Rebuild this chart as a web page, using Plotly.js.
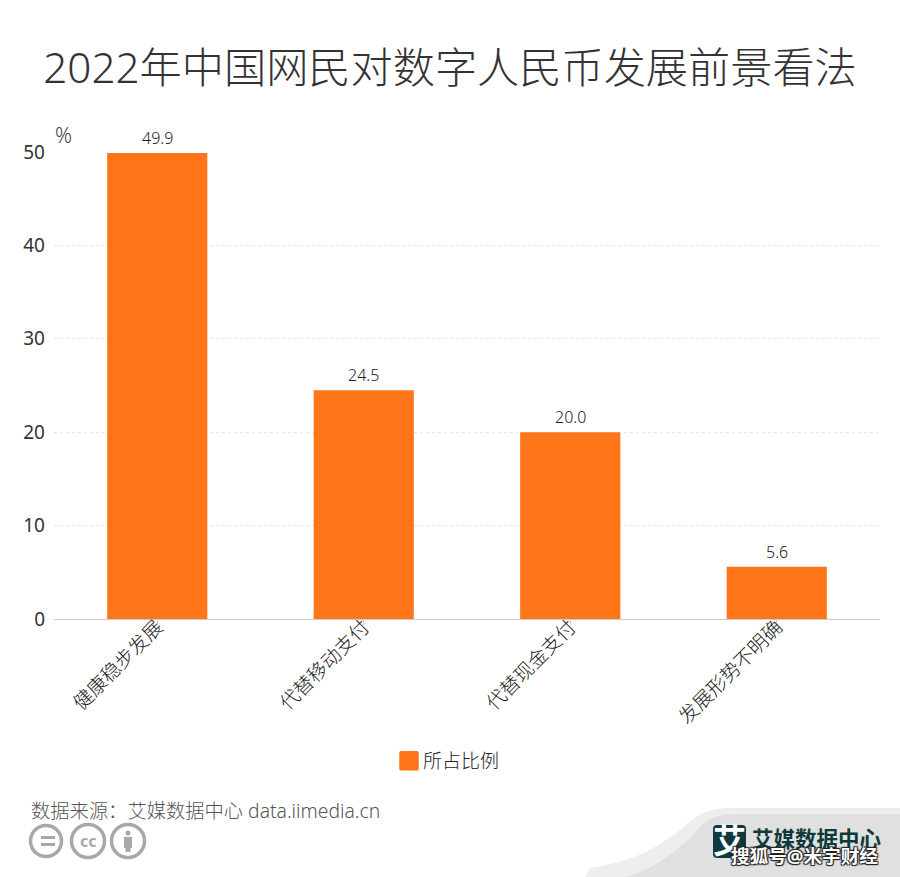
<!DOCTYPE html>
<html>
<head>
<meta charset="utf-8">
<script src="https://cdn.plot.ly/plotly-3.0.1.min.js"></script>
<style>
  html, body { margin: 0; padding: 0; background: #fff; }
  /* plotly's bar swatch is fixed at 12px, the reference has a bigger rounded one */
  .legend .legendpoints path {
    transform: translate(26px, 0) scale(1.3);
    stroke: #ff7519 !important;
    stroke-width: 3px !important;
    stroke-linejoin: round;
  }
</style>
</head>
<body>
<div id="chart" style="width:900px;height:877px;"></div>
<script>
let categorias = ["健康稳步发展", "代替移动支付", "代替现金支付", "发展形势不明确"];
let valores = [49.9, 24.5, 20.0, 5.6];
let etiquetas = ["49.9", "24.5", "20.0", "5.6"];
let ticks_y = [0, 10, 20, 30, 40, 50];

let fuente = '"Noto Sans", "Noto Sans CJK SC", sans-serif';
let naranja = "#ff7519";

// plot area in page pixels, decorations below are placed with these
let left = 54, right = 880, top_y = 152, bottom_y = 619;
function px(x) { return (x - left) / (right - left); }
function py(y) { return (bottom_y - y) / (bottom_y - top_y); }

function rectShape(x0, y0, x1, y1, color) {
  return {type: "rect", xref: "paper", yref: "paper", x0: px(x0), y0: py(y0),
          x1: px(x1), y1: py(y1), fillcolor: color, line: {width: 0}};
}
function circleShape(cx, cy, r, fill, stroke, width) {
  return {type: "circle", xref: "paper", yref: "paper", x0: px(cx - r), y0: py(cy - r),
          x1: px(cx + r), y1: py(cy + r), fillcolor: fill, line: {color: stroke, width: width}};
}
function pathShape(puntos, color, layer) {
  // puntos: list of [command, x, y, ...] in page pixels
  let d = puntos.map(p => {
    let out = p[0];
    for (let i = 1; i < p.length; i += 2) {
      out += (i > 1 ? " " : "") + px(p[i]) + "," + py(p[i + 1]);
    }
    return out;
  }).join(" ") + " Z";
  return {type: "path", xref: "paper", yref: "paper", path: d, fillcolor: color,
          line: {width: 0}, layer: layer || "below"};
}
function nota(x, y, text, size, color, anchor, extra) {
  return Object.assign({
    xref: "paper", yref: "paper", x: px(x), y: py(y), text: text, showarrow: false,
    xanchor: anchor || "left", yanchor: "middle",
    font: {family: fuente, size: size, color: color}
  }, extra || {});
}

let gris = "#a8a8a8";
let oscuro = "#0e3a3b";
let shapes = [
  // grey corner of the footer
  pathShape([["M", 585, 877], ["L", 590, 868], ["C", 625, 862, 645, 855, 672, 836],
             ["C", 692, 822, 698, 808, 730, 808], ["L", 900, 808], ["L", 900, 877]], "#eeeeee"),
  pathShape([["M", 625, 877], ["C", 650, 870, 668, 858, 688, 840],
             ["C", 702, 826, 708, 814, 735, 814], ["L", 900, 814], ["L", 900, 877]], "#e0e0e0"),
  // logo square
  pathShape([["M", 717, 825], ["L", 742, 825], ["Q", 746, 825, 746, 829], ["L", 746, 854],
             ["Q", 746, 858, 742, 858], ["L", 717, 858], ["Q", 713, 858, 713, 854],
             ["L", 713, 829], ["Q", 713, 825, 717, 825]], oscuro, "above"),
  // licence icons
  circleShape(46, 841, 15.5, "rgba(0,0,0,0)", gris, 3.5),
  circleShape(88, 841, 16.5, "rgba(0,0,0,0)", gris, 3.5),
  circleShape(128, 841, 16.5, "rgba(0,0,0,0)", gris, 3.5),
  rectShape(41, 836, 55, 839, gris),
  rectShape(41, 843, 55, 846, gris),
  circleShape(128, 833, 2.5, gris, gris, 0),
  rectShape(124, 837, 132, 848, gris),
  rectShape(125.5, 848, 130.5, 852, gris)
];

let annotations = [
  nota(53, 135, "%", 21, "#555555", "left",
       {font: {family: fuente, size: 21, weight: 300, color: "#444444"}}),
  nota(28.5, 810, "数据来源：艾媒数据中心 data.iimedia.cn", 19.3, "#666666", "left",
       {font: {family: fuente, size: 19.3, weight: 300, color: "#555555"}}),
  nota(88, 841, "<b>cc</b>", 16, gris, "center"),
  nota(729.5, 840, "<b>艾</b>", 33, "#ffffff", "center"),
  nota(750, 838, "<b>艾媒数据中心</b>", 21.5, oscuro, "left"),
  nota(729, 856, "<b>搜狐号@米宇财经</b>", 18.6, "#ffffff", "left",
       {font: {family: fuente, size: 18.6, color: "#ffffff",
               shadow: "1px 1px 1px #222, -1px -1px 1px #222, 1px -1px 1px #222, -1px 1px 1px #222"}})
];
// value labels sit on the data, a bit higher than textposition outside puts them
categorias.forEach((c, i) => {
  annotations.push({
    xref: "x", yref: "y", x: c, y: valores[i], text: etiquetas[i], showarrow: false,
    yanchor: "bottom", yshift: 2,
    font: {family: fuente, size: 16, weight: 300, color: "#222222"}
  });
});

let trace = {
  x: categorias,
  y: valores,
  name: "所占比例",
  type: "bar",
  showlegend: true,
  marker: {color: naranja, line: {width: 0}},
  hoverinfo: "x+y"
};

let layout = {
  width: 900,
  height: 877,
  autosize: false,
  margin: {l: left, r: 900 - right, t: top_y, b: 877 - bottom_y, pad: 0},
  paper_bgcolor: "#ffffff",
  plot_bgcolor: "#ffffff",
  bargap: 0.515,
  font: {family: fuente, color: "#333333"},
  title: {
    text: "2022年中国网民对数字人民币发展前景看法",
    x: 0.5, xref: "container", xanchor: "center",
    y: 1 - 68 / 877, yref: "container", yanchor: "middle",
    font: {family: fuente, size: 42.2, weight: 300, color: "#333333"}
  },
  xaxis: {
    type: "category",
    tickangle: -45,
    tickfont: {family: fuente, size: 19.5, weight: 300, color: "#222222"},
    ticks: "outside",
    ticklen: 5,
    tickcolor: "#cccccc",
    ticklabelstandoff: -17,
    showline: true,
    linecolor: "#cccccc",
    linewidth: 1,
    showgrid: false
  },
  yaxis: {
    range: [0, 50],
    tickvals: ticks_y,
    tickfont: {family: fuente, size: 19, color: "#333333"},
    ticks: "",
    ticklabelstandoff: 8,
    showline: false,
    gridcolor: "#e6e6e6",
    griddash: "dot",
    gridwidth: 1,
    zeroline: false
  },
  showlegend: true,
  legend: {
    orientation: "h",
    x: 0.5 - 23 / 826, xanchor: "center",
    y: py(761), yanchor: "middle",
    font: {family: fuente, size: 19, weight: 300, color: "#222222"}
  },
  shapes: shapes,
  annotations: annotations
};

Plotly.newPlot("chart", [trace], layout, {displayModeBar: false, responsive: false});
</script>
</body>
</html>
